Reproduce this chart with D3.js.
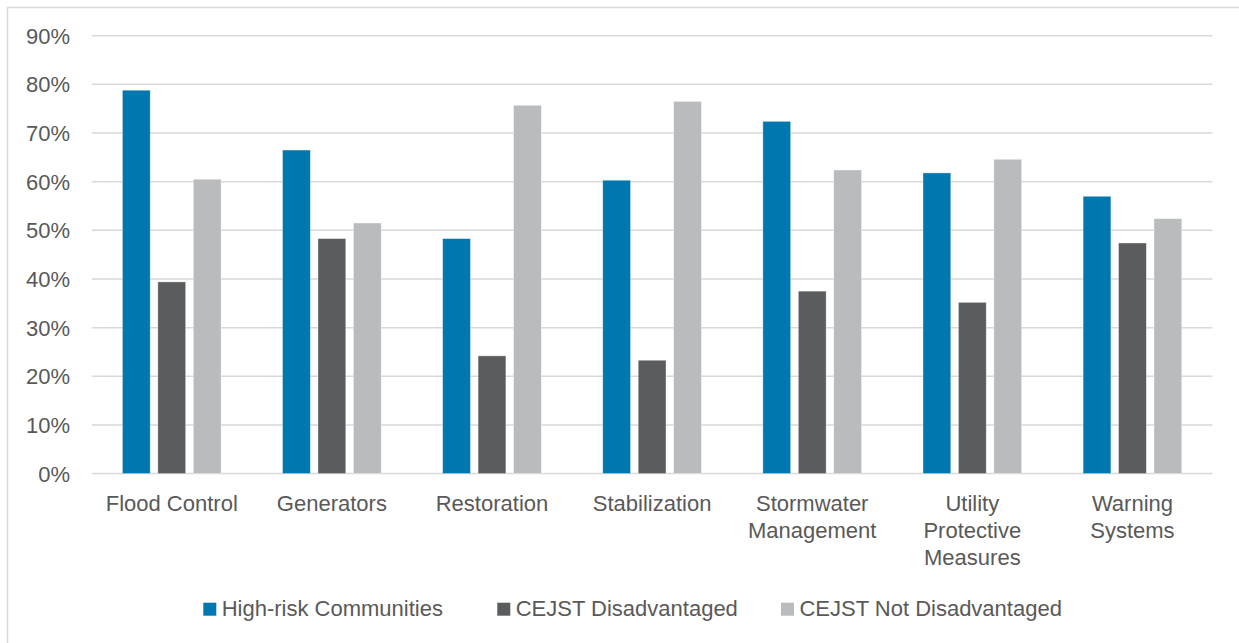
<!DOCTYPE html>
<html><head><meta charset="utf-8">
<script src="https://cdn.jsdelivr.net/npm/d3@7"></script>
<style>
html,body{margin:0;padding:0;background:#fff;}
svg text{font-family:"Liberation Sans",Arial,sans-serif;fill:#595959;}
</style></head>
<body><svg id="chart" width="1239" height="643"></svg>
<script>
const categories = [["Flood Control"],["Generators"],["Restoration"],["Stabilization"],["Stormwater","Management"],["Utility","Protective","Measures"],["Warning","Systems"]];
const seriesNames = ["High-risk Communities","CEJST Disadvantaged","CEJST Not Disadvantaged"];
const highRisk      = [78.8, 66.5, 48.3, 60.3, 72.4, 61.8, 57.0];
const disadvantaged = [39.4, 48.3, 24.2, 23.3, 37.5, 35.2, 47.4];
const notDisadv     = [60.5, 51.5, 75.7, 76.5, 62.4, 64.6, 52.4];
const yTicks = [0,10,20,30,40,50,60,70,80,90];
const colors = ["#0077ae","#5b5c5e","#babbbd"];

const series = [highRisk, disadvantaged, notDisadv];
const svg = d3.select("#chart");

// outer border
svg.append("path").attr("d","M7.5,643 L7.5,7.5 L1239,7.5").attr("fill","none").attr("stroke","#d9d9d9").attr("stroke-width",1.5);

const pLeft = 91.7, pRight = 1212.5, pTop = 35.7, pBottom = 473.6;
const x0 = d3.scaleBand().domain(d3.range(categories.length)).range([pLeft,pRight]).paddingInner(0).paddingOuter(0);
const x1 = d3.scaleBand().domain(d3.range(3)).range([30.7, x0.bandwidth()-30.7]).paddingInner(0.215).paddingOuter(0);
const y = d3.scaleLinear().domain([0,90]).range([pBottom, pTop]);

// gridlines
svg.append("g").selectAll("line").data(yTicks).join("line")
  .attr("x1",pLeft).attr("x2",pRight).attr("y1",d=>y(d)).attr("y2",d=>y(d))
  .attr("stroke","#d9d9d9").attr("stroke-width",1.5);

// y labels
svg.append("g").selectAll("text").data(yTicks).join("text")
  .attr("x",70).attr("y",d=>y(d)).attr("dy","0.36em").attr("text-anchor","end")
  .attr("font-size",22).text(d=>d+"%");

// bars
const g = svg.append("g").selectAll("g").data(categories).join("g")
  .attr("transform",(d,i)=>`translate(${x0(i)},0)`);
g.selectAll("rect").data((d,i)=>series.map((s,j)=>({j,v:s[i]}))).join("rect")
  .attr("x",d=>x1(d.j)).attr("width",x1.bandwidth())
  .attr("y",d=>y(d.v)).attr("height",d=>pBottom-y(d.v))
  .attr("fill",d=>colors[d.j]).attr("stroke","#ffffff").attr("stroke-opacity",0.5).attr("stroke-width",0.75);

// category labels
const cl = svg.append("g").selectAll("text").data(categories).join("text")
  .attr("text-anchor","middle").attr("font-size",22)
  .attr("transform",(d,i)=>`translate(${x0(i)+x0.bandwidth()/2},511)`);
cl.selectAll("tspan").data(d=>d).join("tspan").attr("x",0).attr("y",(d,i)=>i*27).text(d=>d);

// legend
const legendX = [203.3, 497.3, 781];
const lg = svg.append("g").selectAll("g").data(seriesNames).join("g")
  .attr("transform",(d,i)=>`translate(${legendX[i]},602.7)`);
lg.append("rect").attr("width",13).attr("height",13).attr("fill",(d,i)=>colors[i]);
lg.append("text").attr("x",18.4).attr("y",13.3).attr("font-size",22).text(d=>d);
</script></body></html>
